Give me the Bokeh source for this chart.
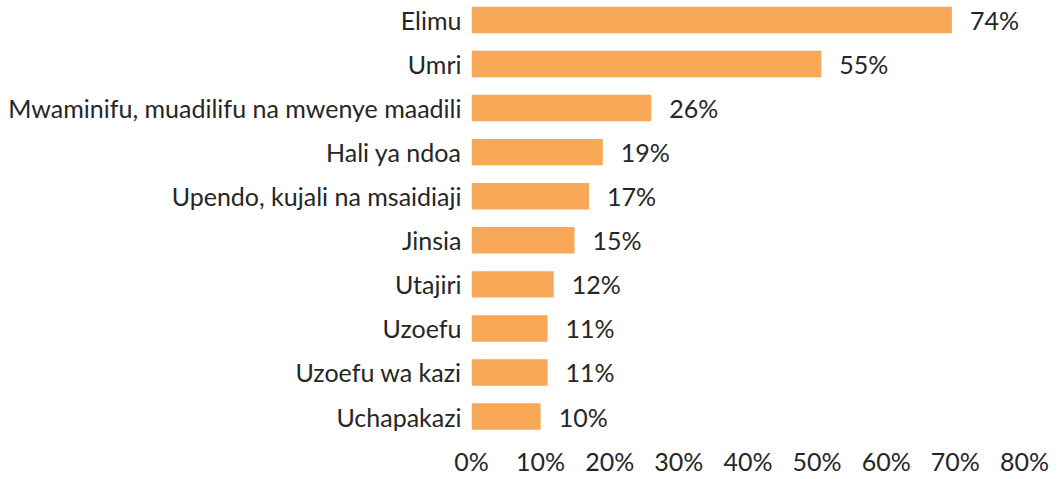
from bokeh.plotting import figure
from bokeh.models import Range1d, FixedTicker, PrintfTickFormatter, ColumnDataSource
from bokeh.core.properties import value
from bokeh.embed import file_html
from bokeh.resources import INLINE

categories = ["Elimu", "Umri", "Mwaminifu, muadilifu na mwenye maadili", "Hali ya ndoa",
              "Upendo, kujali na msaidiaji", "Jinsia", "Utajiri", "Uzoefu",
              "Uzoefu wa kazi", "Uchapakazi"]
bar_values = [69.5, 50.6, 26.0, 19.0, 17.0, 14.9, 11.9, 11.0, 11.0, 10.0]
value_labels = ["74%", "55%", "26%", "19%", "17%", "15%", "12%", "11%", "11%", "10%"]
x_ticks = [0, 10, 20, 30, 40, 50, 60, 70, 80]

FONT = "Lato"
FS = "25px"
TXT = "#262626"
BAR = "#F9A857"

n = len(categories)
ypos = [n - 1 - i for i in range(n)]
src = ColumnDataSource(dict(y=ypos, v=bar_values, lab=value_labels, cat=categories))

p = figure(width=1050, height=478, output_backend="svg", toolbar_location=None,
           x_range=Range1d(0, 80), y_range=Range1d(-0.475, 9.441),
           min_border_left=471, min_border_right=26, min_border_top=0, min_border_bottom=0)

p.hbar(y="y", right="v", left=0, height=0.6, source=src, color=BAR, line_color=None)
p.text(x="v", y="y", text="lab", source=src, x_offset=18, text_align="left",
       text_baseline="middle", text_font=value(FONT), text_font_size=FS, text_color=TXT)

p.xaxis.ticker = FixedTicker(ticks=x_ticks)
p.xaxis.formatter = PrintfTickFormatter(format="%d%%")
p.yaxis.ticker = FixedTicker(ticks=ypos)
p.yaxis.major_label_overrides = {y: c for y, c in zip(ypos, categories)}

for ax in (p.xaxis, p.yaxis):
    ax.axis_line_color = None
    ax.major_tick_line_color = None
    ax.minor_tick_line_color = None
    ax.major_label_text_font = FONT
    ax.major_label_text_font_size = FS
    ax.major_label_text_color = TXT
p.xaxis.major_label_standoff = 2
p.yaxis.major_label_standoff = 4

p.xgrid.visible = False
p.ygrid.visible = False
p.outline_line_color = None
p.background_fill_color = "white"
p.border_fill_color = "white"

open("out.html", "w").write(file_html(p, INLINE))
